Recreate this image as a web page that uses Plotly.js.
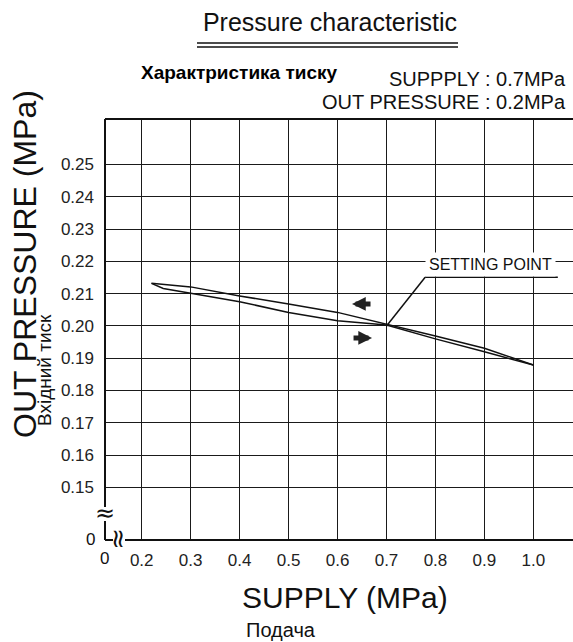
<!DOCTYPE html>
<html>
<head>
<meta charset="utf-8">
<script src="https://cdn.plot.ly/plotly-3.0.1.min.js"></script>
<style>
  html, body { margin: 0; padding: 0; background: #fff; }
  #chart { width: 573px; height: 642px; }
</style>
</head>
<body>
<div id="chart"></div>
<script>
// ---- data ----
const supplyDecreasing = [1.0, 0.9, 0.8, 0.7, 0.6, 0.5, 0.4, 0.3, 0.24, 0.22];
const outDecreasing    = [0.1879, 0.1931, 0.1969, 0.2006, 0.2042, 0.2068, 0.2093, 0.2121, 0.2130, 0.2132];
const supplyIncreasing = [0.22, 0.244, 0.3, 0.4, 0.5, 0.6, 0.7, 0.8, 0.9, 1.0];
const outIncreasing    = [0.2132, 0.2116, 0.2101, 0.2075, 0.2042, 0.2016, 0.2003, 0.1960, 0.1920, 0.1879];
const settingPoint = [0.7, 0.2];

const xTickVals = [0.2, 0.3, 0.4, 0.5, 0.6, 0.7, 0.8, 0.9, 1.0];
const xTickText = ['0.2', '0.3', '0.4', '0.5', '0.6', '0.7', '0.8', '0.9', '1.0'];
const yTickVals = [0.15, 0.16, 0.17, 0.18, 0.19, 0.20, 0.21, 0.22, 0.23, 0.24, 0.25];
const yTickText = ['0.15', '0.16', '0.17', '0.18', '0.19', '0.20', '0.21', '0.22', '0.23', '0.24', '0.25'];
const originLabel = '0';

const titleText = 'Pressure characteristic';
const subtitleText = 'Характристика тиску';
const supplyNote = 'SUPPPLY : 0.7MPa';
const outNote = 'OUT PRESSURE : 0.2MPa';
const yTitle = 'OUT PRESSURE (MPa)';
const yTitleUk = 'Вхідний тиск';
const xTitle = 'SUPPLY (MPa)';
const xTitleUk = 'Подача';
const settingLabel = 'SETTING POINT';

// ---- geometry helpers (pixel -> paper) ----
const W = 573, H = 642;
const M = {l: 105, r: 0, t: 119, b: 102};
const PW = W - M.l - M.r, PH = H - M.t - M.b;
const fx = px => (px - M.l) / PW;
const fy = py => (H - M.b - py) / PH;

const FONT = 'Liberation Sans, Arial, sans-serif';
const INK = '#111';

const traces = [
  {x: supplyDecreasing, y: outDecreasing, mode: 'lines', type: 'scatter',
   line: {color: INK, width: 1.5}, hoverinfo: 'skip', showlegend: false},
  {x: supplyIncreasing, y: outIncreasing, mode: 'lines', type: 'scatter',
   line: {color: INK, width: 1.5}, hoverinfo: 'skip', showlegend: false}
];

const ann = (text, x, y, size, extra) => Object.assign({
  text: text, x: x, y: y, xref: 'paper', yref: 'paper', showarrow: false,
  xanchor: 'center', yanchor: 'middle', font: {family: FONT, size: size, color: INK}
}, extra || {});

const annotations = [
  ann(subtitleText, fx(139), fy(72), 19, {xanchor: 'left', font: {family: FONT, size: 19, color: '#000', weight: 'bold'}}),
  ann(supplyNote, fx(568), fy(79), 20, {xanchor: 'right'}),
  ann(outNote, fx(568), fy(102), 20, {xanchor: 'right'}),
  ann(yTitle, fx(25), fy(264), 32, {textangle: -90}),
  ann(yTitleUk, fx(44), fy(370), 19, {textangle: -90}),
  ann(xTitle, fx(345), fy(597), 30),
  ann(xTitleUk, fx(281), fy(630), 20),
  ann(originLabel, fx(104), fy(558), 17),
  ann(originLabel, fx(90), fy(539), 17),
  ann('≈', fx(105), fy(513), 24, {font: {family: 'DejaVu Sans, sans-serif', size: 24, color: INK}}),
  ann('≈', fx(119), fy(539), 26, {textangle: 90, font: {family: 'DejaVu Sans, sans-serif', size: 26, color: INK}}),
  // setting point label
  {text: settingLabel, x: fx(490), y: fy(264), xref: 'paper', yref: 'paper', showarrow: false,
   xanchor: 'center', yanchor: 'middle', bgcolor: '#fff', borderpad: 3,
   font: {family: FONT, size: 16, color: INK}},
  // direction arrows
  {x: 0.6296, y: 0.2068, xref: 'x', yref: 'y', ax: 20, ay: 0, text: '', showarrow: true,
   arrowhead: 2, arrowsize: 0.55, arrowwidth: 5, arrowcolor: '#222'},
  {x: 0.6705, y: 0.1963, xref: 'x', yref: 'y', ax: -20, ay: 0, text: '', showarrow: true,
   arrowhead: 2, arrowsize: 0.55, arrowwidth: 5, arrowcolor: '#222'}
];

const line = (x0, y0, x1, y1, w) => ({
  type: 'line', xref: 'paper', yref: 'paper',
  x0: x0, y0: y0, x1: x1, y1: y1, line: {color: INK, width: w}
});

const shapes = [
  // frame with broken axes
  line(0, 1, 1, 1, 2),
  line(0, fy(507), 0, 1, 2),
  line(0, 0, 0, fy(521), 2),
  line(0, 0, fx(113), 0, 2),
  line(fx(125), 0, 1, 0, 2),
  // title double underline
  line(fx(197), fy(43), fx(458), fy(43), 1.5),
  line(fx(197), fy(47), fx(458), fy(47), 1.5),
  // setting point leader and underline
  {type: 'line', xref: 'x', yref: 'y', x0: settingPoint[0], y0: settingPoint[1], x1: 0.779, y1: 0.2151,
   line: {color: INK, width: 1.5}},
  {type: 'line', xref: 'x', yref: 'y', x0: 0.779, y0: 0.2151, x1: 1.05, y1: 0.2151,
   line: {color: INK, width: 1.5}}
];

const layout = {
  width: W, height: H,
  margin: M,
  paper_bgcolor: '#fff', plot_bgcolor: '#fff',
  showlegend: false,
  title: {text: titleText, x: 330 / W, xref: 'container', xanchor: 'center',
          y: 1 - 22 / H, yref: 'container', yanchor: 'middle',
          font: {family: FONT, size: 25, color: INK}},
  xaxis: {range: [0.125, 1.081], tickvals: xTickVals, ticktext: xTickText,
          showgrid: true, gridcolor: '#1a1a1a', gridwidth: 1, zeroline: false, showline: false,
          ticks: '', ticklabelstandoff: 8, tickfont: {family: FONT, size: 17, color: '#222'}, fixedrange: true},
  yaxis: {range: [0.1337, 0.2641], tickvals: yTickVals, ticktext: yTickText,
          showgrid: true, gridcolor: '#1a1a1a', gridwidth: 1, zeroline: false, showline: false,
          ticks: '', ticklabelstandoff: 10, tickfont: {family: FONT, size: 17, color: '#222'}, fixedrange: true},
  annotations: annotations,
  shapes: shapes
};

Plotly.newPlot('chart', traces, layout, {staticPlot: true, displayModeBar: false});
</script>
</body>
</html>
